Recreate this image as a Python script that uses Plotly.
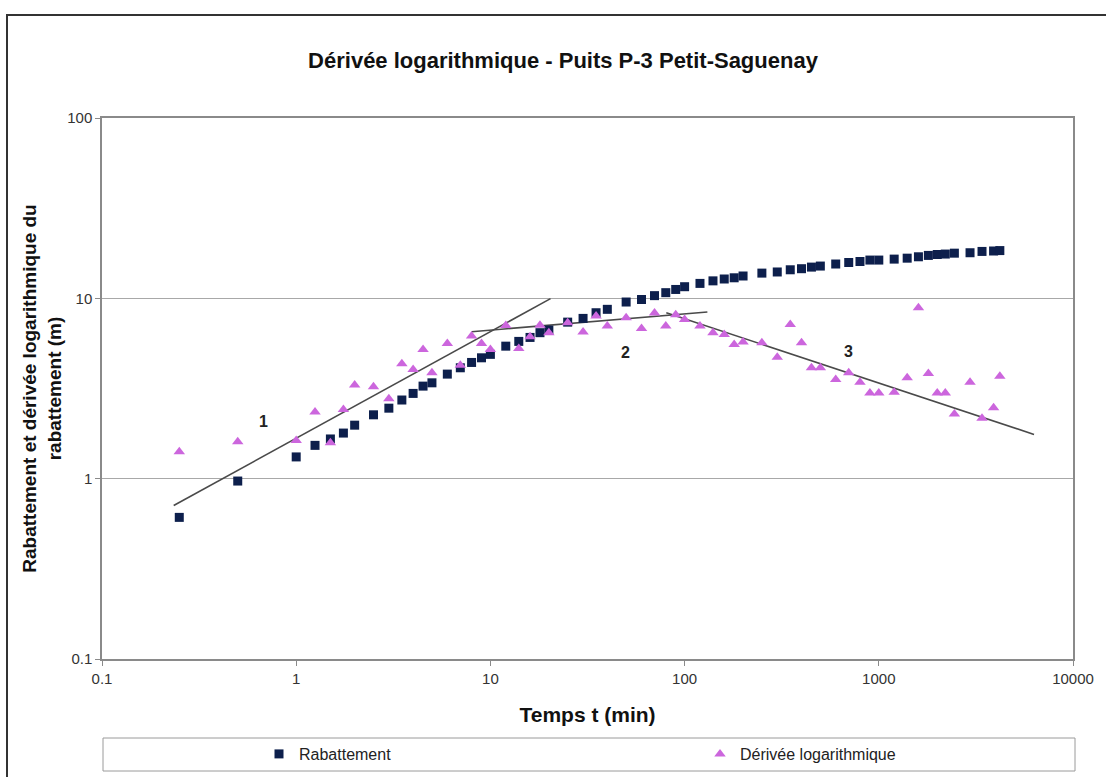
import math
import plotly.graph_objects as go

# ---- data ----
temps = [0.25, 0.5, 1, 1.25, 1.5, 1.75, 2, 2.5, 3, 3.5, 4, 4.5, 5, 6, 7, 8, 9, 10,
         12, 14, 16, 18, 20, 25, 30, 35, 40, 50, 60, 70, 80, 90, 100, 120, 140, 160,
         180, 200, 250, 300, 350, 400, 450, 500, 600, 700, 800, 900, 1000, 1200,
         1400, 1600, 1800, 2000, 2200, 2450, 2950, 3400, 3900, 4200]

rabattement = [0.61, 0.97, 1.32, 1.53, 1.66, 1.79, 1.98, 2.26, 2.46, 2.73, 2.97, 3.26,
               3.40, 3.80, 4.12, 4.41, 4.68, 4.89, 5.43, 5.77, 6.07, 6.45, 6.67, 7.38,
               7.74, 8.32, 8.69, 9.54, 9.85, 10.35, 10.75, 11.2, 11.6, 12.1, 12.5, 12.8,
               13.0, 13.3, 13.8, 14.0, 14.4, 14.6, 14.9, 15.1, 15.5, 15.8, 16.0, 16.3,
               16.3, 16.5, 16.7, 17.0, 17.3, 17.5, 17.6, 17.8, 17.9, 18.2, 18.3, 18.4]

derivee = [1.41, 1.60, 1.63, 2.34, 1.58, 2.42, 3.31, 3.23, 2.77, 4.34, 4.03, 5.21,
           3.87, 5.62, 4.26, 6.18, 5.62, 5.21, 7.08, 5.27, 6.13, 7.10, 6.45, 7.33,
           6.50, 7.98, 7.02, 7.81, 6.80, 8.30, 7.02, 8.10, 7.64, 7.02, 6.45, 6.31,
           5.55, 5.72, 5.67, 4.72, 7.17, 5.67, 4.12, 4.12, 3.55, 3.87, 3.43, 2.99,
           2.99, 3.01, 3.63, 8.88, 3.83, 2.99, 2.99, 2.28, 3.43, 2.16, 2.47, 3.70]

# straight-line fits (segments 1, 2, 3)
droite1_t = [0.234, 20.4]
droite1_v = [0.71, 9.96]
droite2_t = [8.0, 131]
droite2_v = [6.53, 8.40]
droite3_t = [80.5, 6300]
droite3_v = [8.33, 1.76]

etiquettes = ["1", "2", "3"]
etiq_t = [0.68, 49.6, 700]
etiq_v = [2.08, 5.03, 5.10]

x_ticks = [0.1, 1, 10, 100, 1000, 10000]
x_ticktext = ["0.1", "1", "10", "100", "1000", "10000"]
y_ticks = [0.1, 1, 10, 100]
y_ticktext = ["0.1", "1", "10", "100"]

FONT = "Liberation Sans, Arial, sans-serif"
NAVY = "#0d1f4c"
VIOLET = "#cc66dd"
LINE = "#4a4a4a"

fig = go.Figure()

for tt, vv in [(droite1_t, droite1_v), (droite2_t, droite2_v), (droite3_t, droite3_v)]:
    fig.add_trace(go.Scatter(x=tt, y=vv, mode="lines", showlegend=False,
                             line=dict(color=LINE, width=1.6), hoverinfo="skip"))

fig.add_trace(go.Scatter(x=temps, y=rabattement, mode="markers", name="Rabattement",
                         legend="legend",
                         marker=dict(symbol="square", size=9, color=NAVY)))
fig.add_trace(go.Scatter(x=temps, y=derivee, mode="markers", name="Dérivée logarithmique",
                         legend="legend2",
                         marker=dict(symbol="triangle-up", size=10, color=VIOLET)))

for txt, tt, vv in zip(etiquettes, etiq_t, etiq_v):
    fig.add_annotation(x=math.log10(tt), y=math.log10(vv),
                       text="<b>" + txt + "</b>", showarrow=False,
                       font=dict(family=FONT, size=16, color="#222"))

W, H = 1106, 777
L, R, T, B = 102, 33, 118, 118
pw, ph = W - L - R, H - T - B

def px(x):
    return (x - L) / pw

def py(y):
    return (H - B - y) / ph

# legend frame
fig.add_shape(type="rect", xref="paper", yref="paper",
              x0=px(103), x1=px(1075), y0=py(771), y1=py(738),
              line=dict(color="#9a9a9a", width=1), fillcolor="rgba(0,0,0,0)")
# outer chart frame
fig.add_shape(type="rect", xref="paper", yref="paper",
              x0=px(7), x1=px(1120), y0=py(800), y1=py(15),
              line=dict(color="#333", width=2), fillcolor="rgba(0,0,0,0)")

leg_common = dict(orientation="h", xanchor="left", yanchor="middle", y=py(754),
                  bgcolor="rgba(0,0,0,0)", borderwidth=0,
                  font=dict(family=FONT, size=16, color="#222"))

fig.update_layout(
    width=W, height=H,
    margin=dict(l=L, r=R, t=T, b=B, autoexpand=False),
    paper_bgcolor="white", plot_bgcolor="white",
    font=dict(family=FONT, color="#222"),
    title=dict(text="<b>Dérivée logarithmique - Puits P-3 Petit-Saguenay</b>",
               x=563 / W, xanchor="center", y=1 - 60 / H, yanchor="middle",
               font=dict(family=FONT, size=22, color="#111")),
    xaxis=dict(type="log", range=[-1, 4], tickvals=x_ticks, ticktext=x_ticktext,
               showgrid=False, zeroline=False, automargin=False,
               showline=True, linecolor="#8a8a8a", linewidth=1.5, mirror=True,
               ticks="outside", ticklen=5, tickcolor="#8a8a8a",
               tickfont=dict(family=FONT, size=15, color="#333"),
               title=dict(text="<b>Temps t (min)</b>", standoff=22,
                          font=dict(family=FONT, size=21, color="#111"))),
    yaxis=dict(type="log", range=[-1, 2], tickvals=y_ticks, ticktext=y_ticktext,
               showgrid=True, gridcolor="#a8a8a8", gridwidth=1.3, zeroline=False,
               automargin=False,
               showline=True, linecolor="#8a8a8a", linewidth=1.5, mirror=True,
               ticks="outside", ticklen=5, tickcolor="#8a8a8a",
               tickfont=dict(family=FONT, size=15, color="#333"),
               title=dict(text="<b>Rabattement et dérivée logarithmique du<br>rabattement (m)</b>",
                          standoff=1, font=dict(family=FONT, size=19, color="#111"))),
    legend=dict(x=px(259), **leg_common),
    legend2=dict(x=px(700), **leg_common),
    showlegend=True,
)

fig.write_html("out.html")
